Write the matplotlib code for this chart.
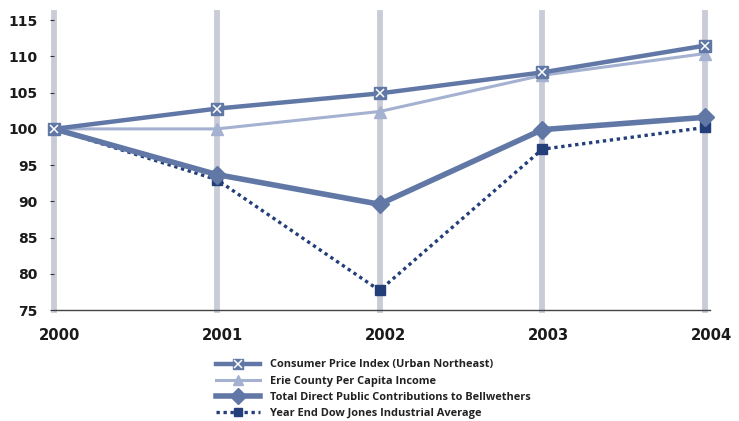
import matplotlib
matplotlib.use("Agg")
import matplotlib.pyplot as plt
import matplotlib.transforms as mtransforms
from matplotlib.legend_handler import HandlerTuple

years = [2000, 2001, 2002, 2003, 2004]
cpi = [100.0, 102.8, 104.9, 107.8, 111.5]
erie_income = [100.0, 100.0, 102.4, 107.4, 110.4]
bellwethers = [100.0, 93.7, 89.6, 99.9, 101.6]
dow_jones = [100.0, 93.0, 77.7, 97.2, 100.2]
y_ticks = [75, 80, 85, 90, 95, 100, 105, 110, 115]

labels = [
    "Consumer Price Index (Urban Northeast)",
    "Erie County Per Capita Income",
    "Total Direct Public Contributions to Bellwethers",
    "Year End Dow Jones Industrial Average",
]

plt.rcParams["font.family"] = ["DejaVu Sans"]

fig = plt.figure(figsize=(7.39, 4.21), dpi=100)
ax = fig.add_axes([54 / 739, 1 - 310 / 421, (710 - 54) / 739, (310 - 13) / 421])

# vertical year gridlines
for yr in years:
    ax.axvline(yr, color="#c9ccd6", lw=4.2, zorder=0, clip_on=False)

c_cpi = "#6178a6"
c_erie = "#a4b1d0"
c_bell = "#6178a6"
c_dow = "#233e78"

# the shared base-year point shows only the CPI marker
after_base = list(range(1, len(years)))

l_erie, = ax.plot(years, erie_income, color=c_erie, lw=2.2, marker="^", ms=8,
                  mfc=c_erie, mec=c_erie, zorder=3, clip_on=False,
                  markevery=after_base)
l_dow, = ax.plot(years, dow_jones, color=c_dow, lw=2.4, ls=(0, (1, 1.1)),
                 marker="s", ms=7.5, mfc=c_dow, mec=c_dow, zorder=4,
                 clip_on=False, markevery=after_base)
l_bell, = ax.plot(years, bellwethers, color=c_bell, lw=4, marker="D", ms=9.5,
                  mfc=c_bell, mec=c_bell, zorder=5, clip_on=False,
                  markevery=after_base)
l_cpi, = ax.plot(years, cpi, color=c_cpi, lw=3.2, marker="s", ms=9,
                 mfc=c_cpi, mec=c_cpi, zorder=6, clip_on=False)
l_cpi_x, = ax.plot(years, cpi, ls="none", marker="x", ms=6, mew=1.1,
                   color="white", zorder=7, clip_on=False)

ax.set_xlim(2000, 2004.03)
ax.set_ylim(75, 116)
ax.set_yticks(y_ticks)
ax.set_yticklabels([str(v) for v in y_ticks], fontsize=10, fontweight="bold",
                   color="#1a1a1a")
ax.set_xticks(years)
ax.set_xticklabels([str(v) for v in years], fontsize=10.6, fontweight="bold",
                   color="#1a1a1a")
ax.tick_params(axis="y", length=3, width=0.8, color="#333333", pad=9)
ax.tick_params(axis="x", length=0, pad=13)

# year labels sit a little right of their gridlines
shift = mtransforms.ScaledTranslation(6 / 100, 0, fig.dpi_scale_trans)
for lbl in ax.get_xticklabels():
    lbl.set_transform(lbl.get_transform() + shift)

for side in ("top", "right", "left"):
    ax.spines[side].set_visible(False)
ax.spines["bottom"].set_color("#444444")
ax.spines["bottom"].set_linewidth(1.0)

leg = fig.legend(
    [(l_cpi, l_cpi_x), l_erie, l_bell, l_dow],
    labels,
    handler_map={tuple: HandlerTuple(ndivide=1)},
    loc="upper center",
    bbox_to_anchor=(0.505, 1 - 355 / 421),
    frameon=False,
    prop={"family": "Open Sans", "size": 7.9, "weight": "bold"},
    handlelength=4.0,
    handletextpad=0.9,
    labelspacing=0.48,
    borderaxespad=0,
    markerscale=0.85,
)
for t in leg.get_texts():
    t.set_color("#222222")

fig.savefig("out.png", dpi=100)
